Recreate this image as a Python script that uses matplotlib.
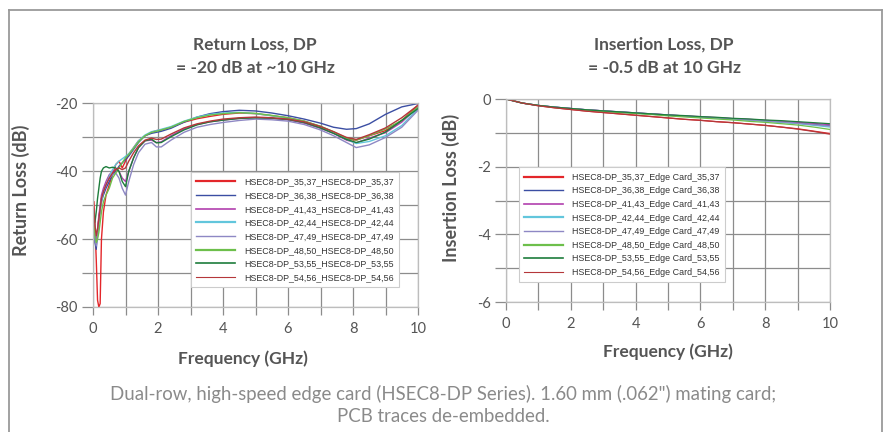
import matplotlib
matplotlib.use("Agg")
import matplotlib.pyplot as plt
from matplotlib.lines import Line2D
from matplotlib.ticker import MultipleLocator

plt.rcParams["axes.unicode_minus"] = False

# --- datos ---
series_names = ["35,37", "36,38", "41,43", "42,44", "47,49", "48,50", "53,55", "54,56"]
series_colors = ["#e3262a", "#3b4ea3", "#b13fae", "#62c6dc",
                 "#8e88c4", "#6dbf4b", "#1e7d3c", "#b5373a"]

# Return loss (dB) vs frecuencia (GHz)
f_rl = [0.03, 0.06, 0.10, 0.14, 0.18, 0.22, 0.26, 0.32, 0.40, 0.50,
        0.60, 0.70, 0.80, 0.90, 1.00, 1.10, 1.25, 1.40, 1.60, 1.80,
        1.95, 2.10, 2.40, 2.80, 3.20, 3.60, 4.00, 4.50, 5.00, 5.50,
        6.00, 6.50, 7.00, 7.40, 7.80, 8.10, 8.50, 9.00, 9.50, 10.0]
rl_3537 = [-49, -56, -66, -78, -80, -79, -60, -52, -47, -44, -41, -38, -37, -39, -37, -35, -33, -31, -29.5, -28.5,
           -28, -27.8, -27, -25.5, -24.5, -23.8, -23.2, -22.8, -23, -23.6, -24.2, -25.2, -26.8, -28.5, -30.5, -30.8, -29.5, -28, -25, -20.5]
rl_3638 = [-56, -61, -63, -58, -54, -51, -49, -47, -45, -43, -41, -40, -38.5, -37.5, -36.5, -35.5, -33.5, -31.5, -29.5, -28.8,
           -28.5, -28.2, -27.3, -25.5, -24, -23, -22.4, -22, -22.2, -22.8, -23.6, -24.6, -25.8, -27, -27.6, -27.4, -26, -23.2, -21, -20]
rl_4143 = [-52, -57, -60, -57, -53, -50, -47, -45, -43, -41, -40, -39.5, -40, -42, -43, -40, -36, -33, -31, -30.8,
           -31.5, -31.3, -29.5, -27.5, -26.2, -25.4, -24.9, -24.4, -24.2, -24.4, -24.8, -25.8, -27.3, -28.8, -30.8, -31.6, -30.2, -28.6, -25.5, -21]
rl_4244 = [-53, -58, -59, -57, -55, -52, -49, -46, -44, -41.5, -39.5, -38, -37, -36.3, -35.6, -34.8, -33, -31, -29.3, -28.3,
           -28, -27.6, -26.8, -25.2, -24, -23.2, -22.8, -22.6, -23, -23.6, -24.3, -25.3, -26.8, -28.5, -30.5, -31.8, -31.2, -29.5, -26.5, -21.5]
rl_4749 = [-57, -60, -62, -59, -55, -51, -48, -46, -44, -42, -41, -40.5, -42, -45, -47, -43, -38, -34.5, -32, -31.5,
           -32.8, -32.8, -30.8, -28.5, -27, -26.2, -25.6, -25, -24.6, -24.8, -25.2, -26.2, -27.8, -29.5, -31.5, -33, -32.2, -30, -27, -22]
rl_4850 = [-55, -59, -61, -60, -58, -55, -52, -49, -47, -45, -42, -40.5, -39, -37.5, -36, -35, -33.2, -31.3, -29.5, -28.5,
           -28.2, -27.8, -27, -25.3, -24.2, -23.4, -23, -22.7, -22.9, -23.5, -24.2, -25.2, -26.7, -28.3, -30.2, -30.8, -29.5, -27.5, -25, -21]
rl_5355 = [-52, -55, -52, -48, -45, -42, -40, -39, -38.6, -39, -38.8, -39, -40, -43, -44.5, -40, -36, -33, -31, -30.5,
           -31.6, -31.5, -29.8, -27.8, -26.3, -25.4, -24.9, -24.4, -24.2, -24.3, -24.7, -25.6, -27.2, -28.8, -30.6, -31.5, -30.5, -28.4, -25, -21.5]
rl_5456 = [-51, -56, -59, -57, -54, -51, -48, -46, -44, -42, -40.5, -39.5, -39, -39.5, -39, -37, -34.5, -32.5, -30.8, -30.2,
           -30.6, -30.5, -29, -27.2, -26, -25.2, -24.6, -24.2, -24, -24.2, -24.6, -25.4, -26.8, -28.3, -30, -30.6, -29.2, -27.2, -24.2, -20.5]

# Insertion loss (dB) vs frecuencia (GHz)
f_il = [0, 0.5, 1, 1.5, 2, 2.5, 3, 3.5, 4, 4.5, 5, 5.5, 6, 6.5, 7, 7.5, 8, 8.5, 9, 9.5, 10]
il_3537 = [0, -0.12, -0.20, -0.26, -0.31, -0.36, -0.40, -0.44, -0.48, -0.52, -0.56,
           -0.60, -0.63, -0.67, -0.70, -0.74, -0.78, -0.83, -0.88, -0.95, -1.02]
il_3638 = [0, -0.12, -0.19, -0.24, -0.28, -0.32, -0.35, -0.38, -0.41, -0.44, -0.47,
           -0.50, -0.53, -0.56, -0.58, -0.61, -0.64, -0.67, -0.71, -0.75, -0.79]
il_4143 = [0, -0.12, -0.19, -0.24, -0.28, -0.32, -0.35, -0.38, -0.41, -0.44, -0.47,
           -0.50, -0.52, -0.55, -0.58, -0.60, -0.63, -0.66, -0.69, -0.72, -0.76]
il_4244 = [0, -0.12, -0.19, -0.24, -0.29, -0.33, -0.36, -0.39, -0.42, -0.45, -0.48,
           -0.51, -0.54, -0.57, -0.60, -0.63, -0.66, -0.70, -0.73, -0.78, -0.83]
il_4749 = [0, -0.12, -0.19, -0.24, -0.28, -0.32, -0.35, -0.39, -0.42, -0.45, -0.48,
           -0.51, -0.53, -0.56, -0.59, -0.62, -0.65, -0.68, -0.72, -0.76, -0.80]
il_4850 = [0, -0.12, -0.19, -0.25, -0.29, -0.33, -0.37, -0.40, -0.43, -0.46, -0.50,
           -0.53, -0.56, -0.59, -0.62, -0.66, -0.69, -0.73, -0.77, -0.83, -0.90]
il_5355 = [0, -0.12, -0.19, -0.24, -0.28, -0.32, -0.35, -0.38, -0.41, -0.44, -0.47,
           -0.49, -0.52, -0.54, -0.57, -0.59, -0.62, -0.64, -0.67, -0.70, -0.73]
il_5456 = [0, -0.12, -0.20, -0.26, -0.31, -0.36, -0.40, -0.44, -0.48, -0.52, -0.56,
           -0.60, -0.63, -0.67, -0.70, -0.74, -0.78, -0.83, -0.89, -0.96, -1.04]

rl_data = [rl_3537, rl_3638, rl_4143, rl_4244, rl_4749, rl_4850, rl_5355, rl_5456]
il_data = [il_3537, il_3638, il_4143, il_4244, il_4749, il_4850, il_5355, il_5456]
legend_lw = [1.6, 1.0, 1.2, 1.6, 1.0, 1.6, 1.2, 0.8]

LABEL_FONT = "Lato"
GRAY_TXT = "#555555"
GRID = "#8c8c8c"


def style_axes(ax, xmin, xmax, ymin, ymax, ymajor, yminor):
    ax.set_xlim(xmin, xmax)
    ax.set_ylim(ymin, ymax)
    ax.xaxis.set_major_locator(MultipleLocator(2))
    ax.xaxis.set_minor_locator(MultipleLocator(1))
    ax.yaxis.set_major_locator(MultipleLocator(ymajor))
    ax.yaxis.set_minor_locator(MultipleLocator(yminor))
    ax.grid(which="both", color=GRID, linewidth=0.9)
    ax.set_axisbelow(True)
    for s in ax.spines.values():
        s.set_color("#bdbdbd")
        s.set_linewidth(0.9)
    ax.tick_params(axis="x", which="both", direction="out", length=6, width=0.9,
                   color=GRID, pad=5, labelsize=10.5, labelcolor=GRAY_TXT)
    ax.tick_params(axis="y", which="both", direction="out", length=8, width=0.9,
                   color=GRID, pad=3, labelsize=10.5, labelcolor=GRAY_TXT)
    for lab in ax.get_xticklabels() + ax.get_yticklabels():
        lab.set_fontfamily(LABEL_FONT)


def add_legend(ax, labels, anchor):
    handles = [Line2D([], [], color=c, lw=w) for c, w in zip(series_colors, legend_lw)]
    leg = ax.legend(handles, labels, loc="lower right", bbox_to_anchor=anchor,
                    prop={"family": "Liberation Sans", "size": 6.4},
                    handlelength=4.4, handletextpad=1.0, labelspacing=0.52,
                    borderpad=0.6, fancybox=False, framealpha=1,
                    edgecolor="#cccccc", labelcolor="#333333")
    leg.get_frame().set_linewidth(0.8)


fig = plt.figure(figsize=(8.86, 4.32), dpi=100)

# --- Return loss ---
ax1 = fig.add_axes([93 / 886, 1 - 307 / 432, 325 / 886, 203.5 / 432])
for y, c in zip(rl_data, series_colors):
    ax1.plot(f_rl, y, color=c, lw=1.0)
style_axes(ax1, 0, 10, -80, -20, 20, 10)
add_legend(ax1, [f"HSEC8-DP_{n}_HSEC8-DP_{n}" for n in series_names], (0.955, 0.075))
ax1.set_ylabel("Return Loss (dB)", fontfamily=LABEL_FONT, fontweight="bold",
               fontsize=13, color=GRAY_TXT)
ax1.set_xlabel("Frequency (GHz)", fontfamily=LABEL_FONT, fontweight="bold",
               fontsize=12.5, color=GRAY_TXT)
ax1.yaxis.set_label_coords(-0.194, 0.575)
ax1.xaxis.set_label_coords(0.4615, -0.211)

# --- Insertion loss ---
ax2 = fig.add_axes([506 / 886, 1 - 302 / 432, 324 / 886, 203 / 432])
for y, c in zip(il_data, series_colors):
    ax2.plot(f_il, y, color=c, lw=0.9)
style_axes(ax2, 0, 10, -6, 0, 2, 1)
add_legend(ax2, [f"HSEC8-DP_{n}_Edge Card_{n}" for n in series_names], (0.69, 0.075))
ax2.set_ylabel("Insertion Loss (dB)", fontfamily=LABEL_FONT, fontweight="bold",
               fontsize=13, color=GRAY_TXT)
ax2.set_xlabel("Frequency (GHz)", fontfamily=LABEL_FONT, fontweight="bold",
               fontsize=12.5, color=GRAY_TXT)
ax2.yaxis.set_label_coords(-0.142, 0.562)
ax2.xaxis.set_label_coords(0.5, -0.202)

# --- titulos ---
title_kw = dict(ha="center", va="center", fontfamily=LABEL_FONT, fontweight="bold",
                fontsize=12.5, color=GRAY_TXT)
fig.text(255 / 886, 1 - 45 / 432, "Return Loss, DP", **title_kw)
fig.text(255 / 886, 1 - 68 / 432, "= -20 dB at ~10 GHz", **title_kw)
fig.text(664 / 886, 1 - 45 / 432, "Insertion Loss, DP", **title_kw)
fig.text(664 / 886, 1 - 68 / 432, "= -0.5 dB at 10 GHz", **title_kw)

# --- pie de figura ---
cap_kw = dict(ha="center", va="center", fontfamily=LABEL_FONT, fontsize=13.4, color="#8a8a8a")
fig.text(443 / 886, 1 - 394 / 432,
         "Dual-row, high-speed edge card (HSEC8-DP Series). 1.60 mm (.062\") mating card;", **cap_kw)
fig.text(443 / 886, 1 - 416 / 432, "PCB traces de-embedded.", **cap_kw)

# --- marco exterior ---
frame_kw = dict(color="#9a9a9a", lw=1.3, transform=fig.transFigure)
fig.add_artist(Line2D([8.5 / 886, 881.5 / 886], [1 - 9.5 / 432, 1 - 9.5 / 432], **frame_kw))
fig.add_artist(Line2D([8.5 / 886, 8.5 / 886], [0, 1 - 9.5 / 432], **frame_kw))
fig.add_artist(Line2D([881.5 / 886, 881.5 / 886], [0, 1 - 9.5 / 432], **frame_kw))

fig.savefig("out.png", dpi=100)
